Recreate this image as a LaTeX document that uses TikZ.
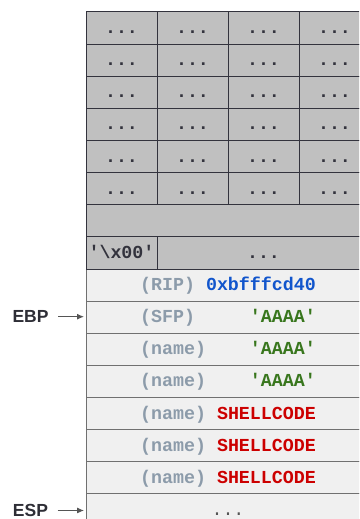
\documentclass[tikz,border=0pt]{standalone}
\usepackage{fontspec}
\setmainfont{Liberation Sans}
\setsansfont{Liberation Sans}
\setmonofont{Liberation Mono}
\usetikzlibrary{arrows.meta}
\definecolor{cellgray}{HTML}{C0C0C0}
\definecolor{celllight}{HTML}{F0F0F0}
\definecolor{gridline}{HTML}{33333D}
\definecolor{lightline}{HTML}{707070}
\definecolor{lblgray}{HTML}{8C9BAA}
\definecolor{valblue}{HTML}{1155CC}
\definecolor{valgreen}{HTML}{38761D}
\definecolor{valred}{HTML}{CC0000}
\definecolor{regtext}{HTML}{2E2E36}
\definecolor{arrowgray}{HTML}{555555}
\begin{document}
\begin{tikzpicture}[x=1pt,y=-1pt,
  codetext/.style={font=\ttfamily\bfseries\fontsize{18.3}{20}\selectfont},
  cellbase/.style={codetext, inner sep=0pt, minimum height=32.125pt,
    text height=11pt, text depth=0pt, line width=1pt},
  graycell/.style={cellbase, draw=gridline, fill=cellgray, text=gridline, minimum width=71pt},
  lightrow/.style={cellbase, draw=lightline, fill=celllight, minimum width=284pt},
  reglabel/.style={font=\sffamily\bfseries\fontsize{17.5}{20}\selectfont, text=regtext, inner sep=0pt, anchor=base},
  ptr/.style={draw=arrowgray, line width=0.9pt, -{Latex[length=7pt,width=6pt]}, shorten <=9.5pt, shorten >=1.5pt}
]
\useasboundingbox (0,0) rectangle (359,519);
\clip (0,0) rectangle (359,519);

% light rows (stack frame)
\node[lightrow] (rip)   at (228,285.06) {{\color{lblgray}(RIP)}\phantom{0}{\color{valblue}0xbfffcd40}};
\node[lightrow] (sfp)   at (228,317.19) {{\color{lblgray}(SFP)}\phantom{00000}{\color{valgreen}'AAAA'}};
\node[lightrow] (name1) at (228,349.31) {{\color{lblgray}(name)}\phantom{0000}{\color{valgreen}'AAAA'}};
\node[lightrow] (name2) at (228,381.44) {{\color{lblgray}(name)}\phantom{0000}{\color{valgreen}'AAAA'}};
\node[lightrow] (name3) at (228,413.56) {{\color{lblgray}(name)}\phantom{0}{\color{valred}SHELLCODE}};
\node[lightrow] (name4) at (228,445.69) {{\color{lblgray}(name)}\phantom{0}{\color{valred}SHELLCODE}};
\node[lightrow] (name5) at (228,477.81) {{\color{lblgray}(name)}\phantom{0}{\color{valred}SHELLCODE}};
\node[lightrow, text=arrowgray, font=\ttfamily\fontsize{18.3}{20}\selectfont] (bottom) at (228,509.94) {...};

% gray grid
\foreach \r in {1,...,6}{
  \foreach \c/\x in {1/121.5,2/192.5,3/263.5,4/334.5}{
    \node[graycell] (g\r\c) at (\x,{12+32.125*(\r-0.5)}) {...};
  }
}
\node[graycell, minimum width=284pt] (gempty) at (228,220.81) {};
\node[graycell] (gnull) at (121.5,252.94) {'\textbackslash x00'};
\node[graycell, minimum width=213pt] (grest) at (263.5,252.94) {...};

% registers
\node[reglabel] (ebp) at (30.5,322.7) {EBP};
\node[reglabel] (esp) at (30.5,516.5) {ESP};
\draw[ptr] (ebp.east) -- (ebp.east -| sfp.west);
\draw[ptr] (esp.east) -- (esp.east -| bottom.west);
\end{tikzpicture}
\end{document}
